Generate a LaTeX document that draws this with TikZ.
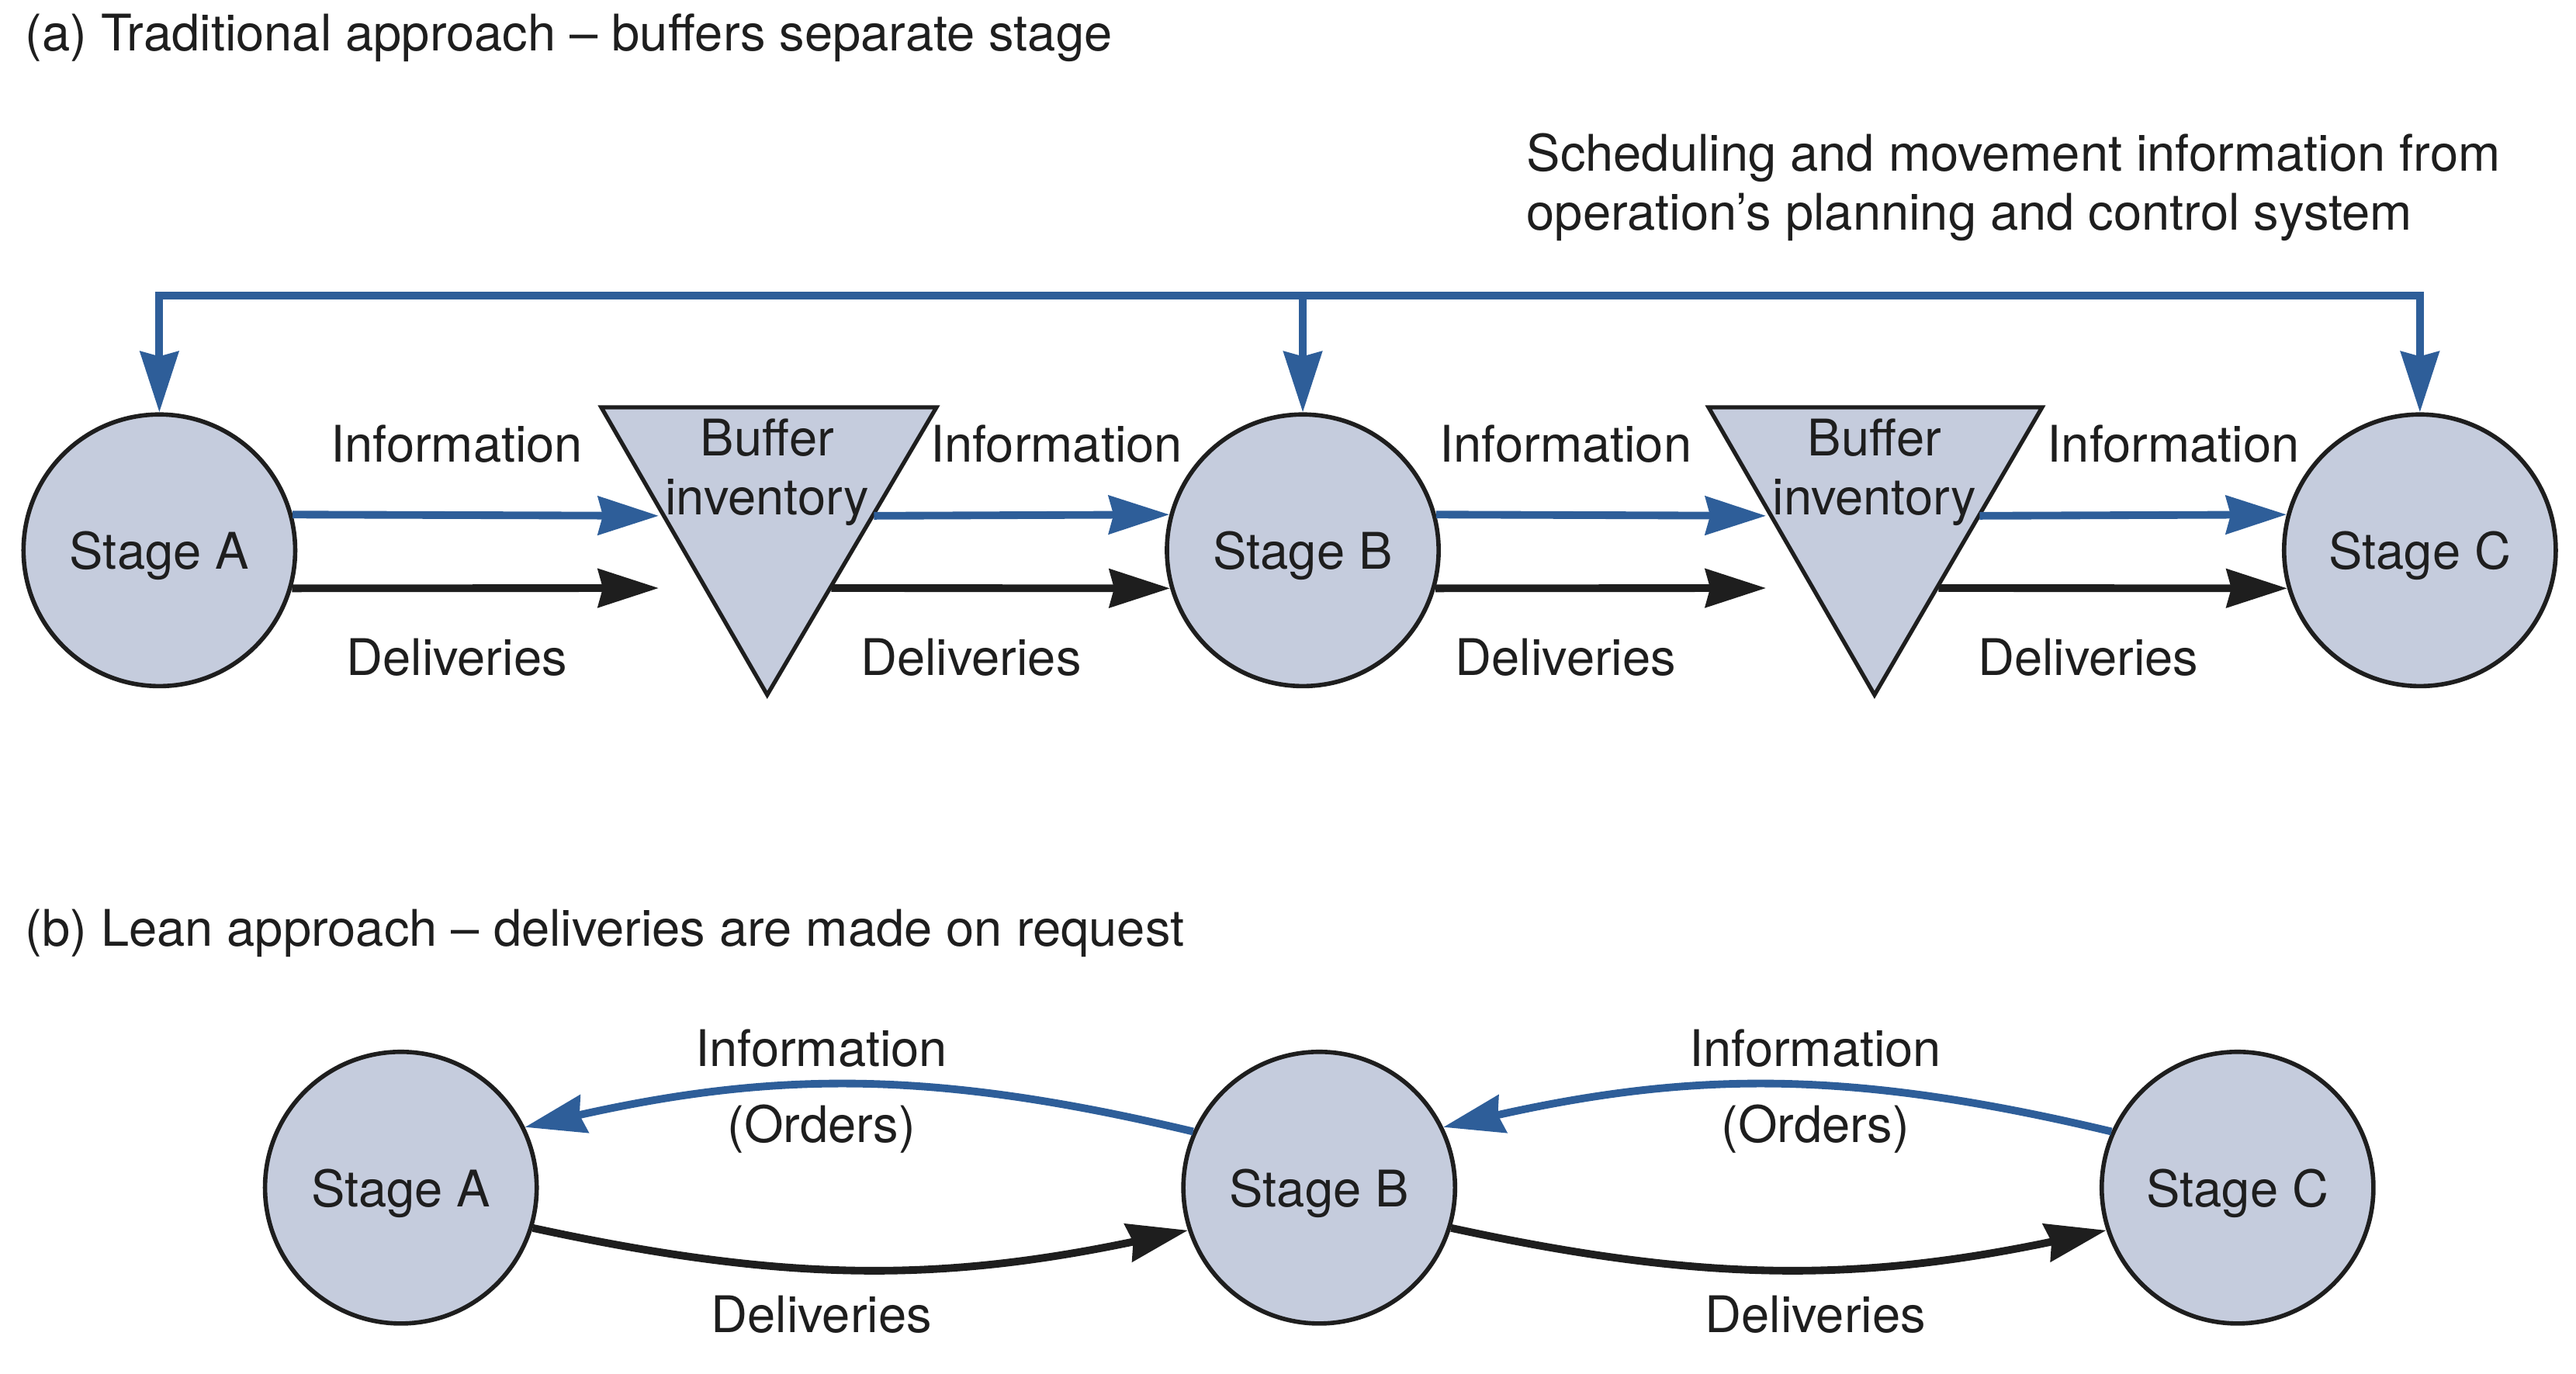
\documentclass[tikz,border=0pt]{standalone}
\usepackage{fontspec}
\setmainfont{TeX Gyre Heros}
\usetikzlibrary{arrows.meta}
\definecolor{infoblue}{RGB}{46,94,153}
\definecolor{stagefill}{RGB}{197,204,221}
\definecolor{inkblack}{RGB}{30,30,30}
\tikzset{
  stage/.style={circle, draw=inkblack, line width=1.6pt, fill=stagefill, minimum size=3.5cm, inner sep=0pt, text depth=0pt, text=inkblack},
  lbl/.style={inner sep=0pt, text depth=0pt, text=inkblack},
  buffer/.style={draw=inkblack, line width=1.5pt, fill=stagefill, line join=miter},
  tip/.style={-{Stealth[length=7.8mm, width=4.9mm, inset=0.6mm]}},
  infoarrow/.style={draw=infoblue, line width=2.8pt, tip, color=infoblue},
  delarrow/.style={draw=inkblack, line width=2.8pt, tip, color=inkblack}
}
\begin{document}
\begin{tikzpicture}[x=0.02117cm, y=-0.02117cm, font=\fontsize{18.5}{21.6}\selectfont]
  \useasboundingbox (0,0) rectangle (1568,836.4);
  % (a) traditional
  \node[lbl, anchor=base west] (titleA) at (15,31) {(a) Traditional approach – buffers separate stage};
  \node[lbl, anchor=base west, align=left] (sched) at (929,140) {Scheduling and movement information from\\operation’s planning and control system};
  \draw[buffer] (366,248) -- (570,248) -- (467,423) -- cycle;
  \draw[buffer] (1040,248) -- (1243,248) -- (1141,423) -- cycle;
  \node[lbl, align=center] (buf1) at (467,284) {Buffer\\inventory};
  \node[lbl, align=center] (buf2) at (1141,284) {Buffer\\inventory};
  \node[stage] (sA) at (97,335) {Stage A};
  \node[stage] (sB) at (793,335) {Stage B};
  \node[stage] (sC) at (1473,335) {Stage C};
  \coordinate (top) at (0,180);
  \coordinate (b1in) at (401,314);
  \coordinate (b1out) at (532,314);
  \coordinate (b1dlv) at (401,358);
  \coordinate (b1dout) at (506,358);
  \coordinate (b2in) at (1075,314);
  \coordinate (b2out) at (1205,314);
  \coordinate (b2dlv) at (1075,358);
  \coordinate (b2dout) at (1180,358);
  \draw[infoarrow, {Stealth[length=7.8mm, width=4.9mm, inset=0.6mm]}-{Stealth[length=7.8mm, width=4.9mm, inset=0.6mm]}, line join=miter]
    (sA.north) -- (sA.north |- top) -- (sC.north |- top) -- (sC.north);
  \draw[infoarrow] (sB.north |- top) -- (sB.north);
  \foreach \source/\dest in {sA.15/b1in, b1out/sB.165, sB.15/b2in, b2out/sC.165}
    \draw[infoarrow] (\source) -- (\dest);
  \foreach \source/\dest in {sA.-16/b1dlv, b1dout/sB.196, sB.-16/b2dlv, b2dout/sC.196}
    \draw[delarrow] (\source) -- (\dest);
  \node[lbl] (infoA) at (278,270) {Information};
  \node[lbl] (infoB) at (643,270) {Information};
  \node[lbl] (infoC) at (953,270) {Information};
  \node[lbl] (infoD) at (1323,270) {Information};
  \node[lbl] (dlvA) at (278,400) {Deliveries};
  \node[lbl] (dlvB) at (591,400) {Deliveries};
  \node[lbl] (dlvC) at (953,400) {Deliveries};
  \node[lbl] (dlvD) at (1271,400) {Deliveries};
  % (b) lean
  \node[lbl, anchor=base west] (titleB) at (15,576) {(b) Lean approach – deliveries are made on request};
  \node[stage] (lA) at (244,723) {Stage A};
  \node[stage] (lB) at (803,723) {Stage B};
  \node[stage] (lC) at (1362,723) {Stage C};
  \foreach \source/\dest in {lB.156/lA.26, lC.156/lB.26}
    \draw[infoarrow] (\source) to[bend right=13] (\dest);
  \foreach \source/\dest in {lA.-17/lB.198, lB.-17/lC.198}
    \draw[delarrow] (\source) to[bend right=12] (\dest);
  \node[lbl] (ordA) at (500,638) {Information};
  \node[lbl] (ordA2) at (500,684) {(Orders)};
  \node[lbl] (ordB) at (1105,638) {Information};
  \node[lbl] (ordB2) at (1105,684) {(Orders)};
  \node[lbl] (lnA) at (500,800) {Deliveries};
  \node[lbl] (lnB) at (1105,800) {Deliveries};
\end{tikzpicture}
\end{document}
